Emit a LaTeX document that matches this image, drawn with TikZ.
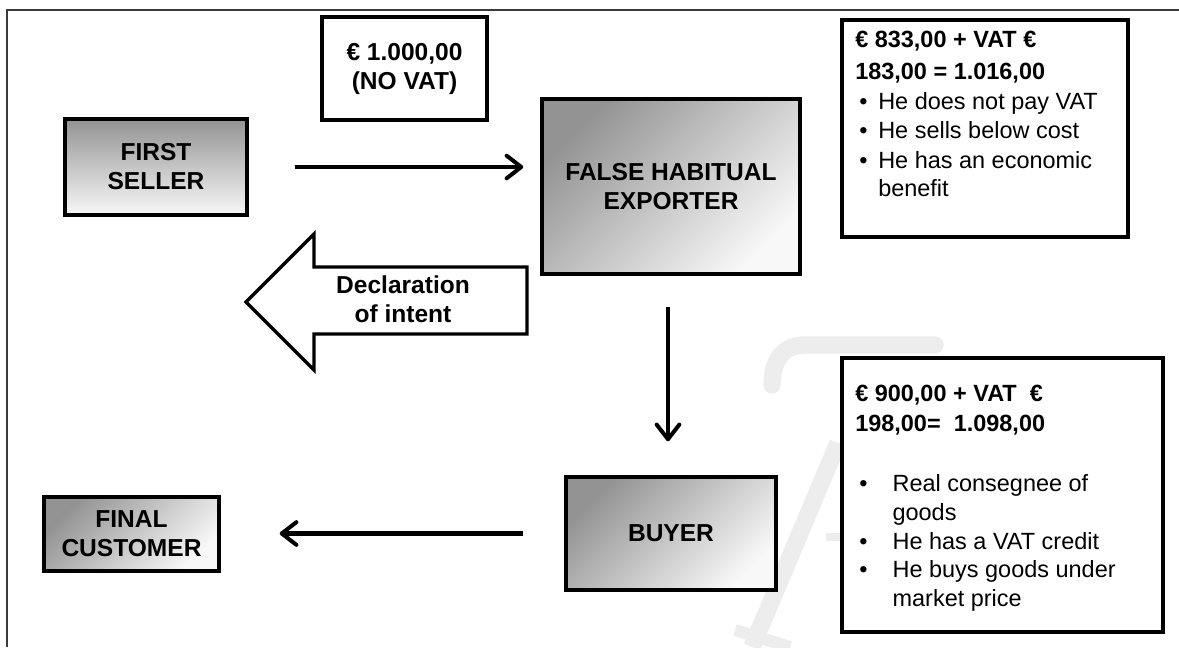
\documentclass[tikz,border=0pt]{standalone}
\usepackage{fontspec}
\setmainfont{Liberation Sans}
\usetikzlibrary{arrows.meta,calc}
\definecolor{gdark}{HTML}{939393}
\definecolor{glight}{HTML}{F8F8F8}
\definecolor{wmark}{HTML}{EDEDED}
\definecolor{framec}{HTML}{3A3A3A}
\begin{document}
\begin{tikzpicture}[x=0.75pt,y=-0.75pt,
  big/.style={font=\bfseries\fontsize{18.4}{21.75}\selectfont},
  small/.style={font=\fontsize{17.6}{21.5}\selectfont},
  gbox/.style={draw=black, line width=2.6pt, top color=gdark, bottom color=glight,
    shading angle=45, big, align=center, inner sep=0pt},
  wbox/.style={draw=black, line width=2.6pt, fill=white, inner sep=0pt},
  flow/.style={line width=3.2pt, -{Straight Barb[length=11pt,width=17pt,line width=3pt,round]}},
  wm/.style={draw=wmark, line width=13pt}
]
\useasboundingbox (0,0) rectangle (1179,647);
\fill[white] (0,0) rectangle (1179,647);
% faint watermark
\draw[wm, line cap=round] (935,345) -- (805,345) .. controls (785,345) and (772,358) .. (772,385);
\draw[wm] (838,443) -- (752,647);
\draw[wm, line width=6pt] (826,537) -- (842,537);
\draw[wm, line width=9pt] (735,630) -- (790,647);
% outer frame
\draw[framec, line width=0.9pt] (7,647) -- (7,10) -- (1179,10);

% boxes
\node[gbox, shading angle=0, minimum width=136.5pt, minimum height=72pt] (fs) at (156,167) {FIRST\\SELLER};
\node[gbox, minimum width=193.5pt, minimum height=131.25pt] (fhe) at (671,186.5) {FALSE HABITUAL\\EXPORTER};
\node[gbox, minimum width=157.5pt, minimum height=84.75pt] (buyer) at (671,533.5) {BUYER};
\node[gbox, minimum width=131.25pt, minimum height=55.5pt] (fc) at (131.5,534) {FINAL\\CUSTOMER};

\node[wbox, big, align=center, minimum width=123.75pt, minimum height=77.25pt] (novat) at (404.5,68.5) {€ 1.000,00\\(NO VAT)};

\node[wbox, minimum width=214.5pt, minimum height=162.75pt] (info1) at (985,128.5) {};
\node[anchor=north west, inner sep=0pt, align=left, small] (info1t) at (855,31)
  {{\bfseries € 833,00 + VAT €}\\[2.4pt]
   {\bfseries 183,00 = 1.016,00}\\[0.8pt]
   \hspace*{3pt}\makebox[14.25pt][l]{•}He does not pay VAT\\[0.8pt]
   \hspace*{3pt}\makebox[14.25pt][l]{•}He sells below cost\\[0.8pt]
   \hspace*{3pt}\makebox[14.25pt][l]{•}He has an economic\\[-0.4pt]
   \hspace*{17.25pt}benefit};

\node[wbox, minimum width=240.75pt, minimum height=205.5pt] (info2) at (1002.5,495) {};
\node[anchor=north west, inner sep=0pt, align=left, small] (info2t) at (855,385)
  {{\bfseries € 900,00 + VAT\ \ €}\\[0.6pt]
   {\bfseries 198,00=\ \ 1.098,00}\\[24pt]
   \hspace*{3pt}\makebox[25pt][l]{•}Real consegnee of\\
   \hspace*{28pt}goods\\
   \hspace*{3pt}\makebox[25pt][l]{•}He has a VAT credit\\
   \hspace*{3pt}\makebox[25pt][l]{•}He buys goods under\\
   \hspace*{28pt}market price};

% block arrow: declaration of intent
\draw[line width=2.6pt, fill=white, line join=miter]
  (246,302) -- (314,234) -- (314,267) -- (527,267) -- (527,334) -- (314,334) -- (314,370) -- cycle;
\node[big, align=center, inner sep=0pt] (decl) at (403,299) {Declaration\\of intent};

% connectors
\draw[flow, shorten <=34.5pt, shorten >=12.75pt] (fs.east) -- (fhe.west |- fs.east);
\draw[flow, shorten <=23.25pt, shorten >=25.5pt] ($(fhe.south)+(-3,0)$) -- ($(buyer.north)+(-3,0)$);
\draw[flow, shorten <=30.75pt, shorten >=44.25pt] (buyer.west) -- (fc.east |- buyer.west);
\end{tikzpicture}
\end{document}
